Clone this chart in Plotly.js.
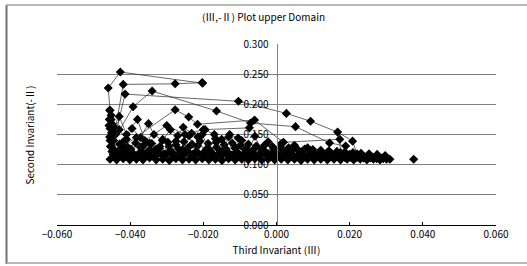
<!DOCTYPE html>
<html>
<head>
<meta charset="utf-8">
<script src="https://cdn.plot.ly/plotly-3.0.1.min.js"></script>
<style>html,body{margin:0;padding:0;background:#fff;}#chart{width:527px;height:266px;}</style>
</head>
<body>
<div id="chart"></div>
<script>
// ---- data ----
const xTicks = [-0.06, -0.04, -0.02, 0.00, 0.02, 0.04, 0.06];
const yTicks = [0.000, 0.050, 0.100, 0.150, 0.200, 0.250, 0.300];

const band1X = [-0.0455,-0.0446,-0.0437,-0.0428,-0.0419,-0.0410,-0.0401,-0.0392,-0.0383,-0.0374,-0.0365,-0.0356,-0.0347,-0.0338,-0.0329,-0.0320,-0.0311,-0.0302,-0.0293,-0.0284,-0.0275,-0.0266,-0.0257,-0.0248,-0.0239,-0.0230,-0.0221,-0.0212,-0.0203,-0.0194,-0.0185,-0.0176,-0.0167,-0.0158,-0.0149,-0.0140,-0.0131,-0.0122,-0.0113,-0.0104,-0.0095,-0.0086,-0.0077,-0.0068,-0.0059,-0.0050,-0.0041,-0.0032,-0.0023,-0.0014,-0.0005,0.0004,0.0013,0.0022,0.0031,0.0040,0.0049,0.0058,0.0067,0.0076,0.0085,0.0094,0.0103,0.0112,0.0121,0.0130,0.0139,0.0148,0.0157,0.0166,0.0175,0.0184,0.0193,0.0202,0.0211,0.0220,0.0229,0.0238,0.0247,0.0256,0.0265,0.0274,0.0283,0.0292,0.0301,0.0310];
const band1Y = [0.109,0.117,0.108,0.118,0.110,0.116,0.108,0.119,0.109,0.117,0.108,0.118,0.111,0.116,0.108,0.119,0.109,0.117,0.107,0.118,
 0.110,0.116,0.108,0.120,0.109,0.117,0.108,0.118,0.110,0.115,0.108,0.119,0.109,0.117,0.107,0.118,0.110,0.116,0.108,0.119,
 0.109,0.117,0.108,0.118,0.110,0.116,0.108,0.118,0.109,0.117,0.108,0.117,0.109,0.116,0.108,0.117,0.109,0.116,0.107,0.116,
 0.109,0.115,0.108,0.115,0.109,0.114,0.108,0.114,0.109,0.113,0.108,0.113,0.109,0.112,0.108,0.112,0.109,0.111,0.108,0.111,
 0.109,0.110,0.108,0.110,0.109,0.109];

const band2X = [-0.0450,-0.0437,-0.0424,-0.0411,-0.0398,-0.0385,-0.0372,-0.0359,-0.0346,-0.0333,-0.0320,-0.0307,-0.0294,-0.0281,-0.0268,-0.0255,-0.0242,-0.0229,-0.0216,-0.0203,-0.0190,-0.0177,-0.0164,-0.0151,-0.0138,-0.0125,-0.0112,-0.0099,-0.0086,-0.0073,-0.0060,-0.0047,-0.0034,-0.0021,-0.0008,0.0005,0.0018,0.0031,0.0044,0.0057,0.0070,0.0083,0.0096,0.0109,0.0122,0.0135,0.0148,0.0161,0.0174,0.0187,0.0200,0.0213,0.0226];
const band2Y = [0.122,0.113,0.128,0.114,0.126,0.113,0.129,0.115,0.125,0.113,0.127,0.114,0.130,0.113,0.126,0.115,0.128,0.113,0.131,0.114,
 0.127,0.113,0.129,0.115,0.126,0.113,0.128,0.114,0.125,0.113,0.127,0.114,0.124,0.113,0.126,0.114,0.123,0.113,0.124,0.114,
 0.122,0.113,0.121,0.113,0.120,0.112,0.120,0.112,0.118,0.112,0.117,0.111,0.115];

const band3X = [-0.0455,-0.0437,-0.0419,-0.0401,-0.0383,-0.0365,-0.0347,-0.0329,-0.0311,-0.0293,-0.0275,-0.0257,-0.0239,-0.0221,-0.0203,-0.0185,-0.0167,-0.0149,-0.0131,-0.0113,-0.0095,-0.0077,-0.0059,-0.0041,-0.0023,-0.0005,0.0013,0.0031,0.0049,0.0067,0.0085,0.0103];
const band3Y = [0.140,0.121,0.138,0.124,0.145,0.120,0.136,0.126,0.142,0.122,0.139,0.125,0.148,0.121,0.150,0.126,0.143,0.122,0.146,0.127,
 0.140,0.123,0.147,0.125,0.138,0.122,0.135,0.121,0.132,0.120,0.128,0.119];

const band4X = [-0.0458,-0.0445,-0.0452,-0.0430,-0.0410,-0.0395,-0.0372,-0.0350,-0.0335,-0.0312,-0.0290,-0.0270,-0.0255,-0.0232,-0.0215,-0.0195,-0.0170,-0.0150,-0.0128,-0.0105];
const band4Y = [0.165,0.148,0.175,0.158,0.142,0.160,0.145,0.168,0.150,0.140,0.158,0.148,0.162,0.152,0.146,0.158,0.150,0.142,0.150,0.144];

const band5X = [-0.0451,-0.0440,-0.0429,-0.0418,-0.0407,-0.0396,-0.0385,-0.0374,-0.0363,-0.0352,-0.0341,-0.0330,-0.0319,-0.0308,-0.0297,-0.0286,-0.0275,-0.0264,-0.0253,-0.0242,-0.0231,-0.0220,-0.0209,-0.0198,-0.0187,-0.0176,-0.0165,-0.0154,-0.0143,-0.0132,-0.0121,-0.0110,-0.0099,-0.0088,-0.0077,-0.0066,-0.0055,-0.0044,-0.0033,-0.0022,-0.0011,0.0000,0.0011,0.0022,0.0033,0.0044,0.0055,0.0066,0.0077,0.0088,0.0099,0.0110,0.0121,0.0132,0.0143,0.0154,0.0165,0.0176,0.0187,0.0198,0.0209,0.0220,0.0231,0.0242,0.0253,0.0264,0.0275,0.0286,0.0297];
const band5Y = [0.131,0.119,0.134,0.121,0.129,0.118,0.136,0.120,0.132,0.119,0.135,0.122,0.130,0.118,0.137,0.121,0.133,0.119,0.138,0.122,
 0.134,0.120,0.139,0.121,0.135,0.119,0.137,0.122,0.133,0.120,0.136,0.121,0.132,0.119,0.134,0.120,0.131,0.119,0.132,0.118,
 0.130,0.118,0.129,0.117,0.128,0.117,0.127,0.116,0.126,0.116,0.125,0.115,0.124,0.115,0.123,0.114,0.122,0.114,0.121,0.113,
 0.120,0.113,0.119,0.112,0.118,0.112,0.117,0.111,0.115];

const colX = [-0.0456,-0.0452,-0.0457,-0.0450,-0.0455,-0.0451,-0.0456,-0.0449,-0.0454];
const colY = [0.190,0.182,0.175,0.168,0.160,0.153,0.146,0.138,0.130];

const t1X = [-0.0455,-0.0460,-0.0427,-0.0202];
const t1Y = [0.190,0.227,0.2535,0.235];
const t2X = [-0.0440,-0.0419,-0.0277,-0.0203];
const t2Y = [0.160,0.233,0.234,0.236];
const t3X = [-0.0440,-0.0414,-0.0104,0.0027,0.0093,0.0167,0.0208,0.0220];
const t3Y = [0.150,0.217,0.205,0.185,0.172,0.154,0.139,0.118];
const t4X = [-0.0445,-0.0392,-0.0340,-0.0164,-0.0071,0.0052,0.0145,0.0189,0.0190];
const t4Y = [0.140,0.196,0.222,0.189,0.169,0.163,0.136,0.131,0.115];
const t5X = [-0.0420,-0.0277,-0.0240,-0.0216,-0.0060,0.0019,0.0173,0.0175];
const t5Y = [0.130,0.191,0.179,0.167,0.174,0.137,0.142,0.120];
const t6X = [-0.0445,-0.0430,-0.0410,-0.0380,-0.0360,-0.0300,-0.0250,-0.0200,-0.0074];
const t6Y = [0.125,0.180,0.150,0.175,0.140,0.165,0.150,0.158,0.161];
const outX = [0.0375];
const outY = [0.109];

// ---- chart ----
const FONT = '"Noto Sans CJK JP", "Noto Sans", sans-serif';
const series = [[band1X,band1Y],[band2X,band2Y],[band5X,band5Y],[band3X,band3Y],[band4X,band4Y],[colX,colY],
  [t1X,t1Y],[t2X,t2Y],[t3X,t3Y],[t4X,t4Y],[t5X,t5Y],[t6X,t6Y],[outX,outY]];
const traces = series.map(([xs, ys]) => ({
  x: xs, y: ys, type: 'scatter', mode: 'lines+markers',
  line: {color: '#262626', width: 0.7},
  marker: {symbol: 'diamond', size: 7, color: '#000'},
  showlegend: false, hoverinfo: 'skip', cliponaxis: false
}));

const layout = {
  width: 527, height: 266,
  margin: {l: 57, r: 31, t: 44, b: 41, pad: 0},
  paper_bgcolor: '#fff', plot_bgcolor: '#fff',
  font: {family: FONT, size: 10, color: '#000'},
  title: {text: '(Ⅲ,-Ⅱ) Plot upper Domain', x: 0.5, xanchor: 'center', y: 0.935, yanchor: 'middle',
          font: {family: FONT, size: 10, color: '#000'}},
  xaxis: {
    range: [-0.06, 0.06], tickvals: xTicks, tickformat: '.3f',
    showgrid: false, zeroline: false, showline: true, linecolor: '#000', linewidth: 1,
    ticks: 'inside', ticklen: 3, tickcolor: '#000',
    tickfont: {family: FONT, size: 10, color: '#000'},
    title: {text: 'Third Invariant (Ⅲ)', standoff: 6, font: {family: FONT, size: 10, color: '#000'}},
    automargin: false, fixedrange: true
  },
  yaxis: {
    range: [0, 0.3], tickvals: yTicks, tickformat: '.3f',
    anchor: 'free', position: 0.5,
    showgrid: true, gridcolor: '#808080', gridwidth: 1,
    zeroline: false, showline: true, linecolor: '#808080', linewidth: 1,
    ticks: '', ticklabelstandoff: 6,
    tickfont: {family: FONT, size: 10, color: '#000'},
    automargin: false, fixedrange: true
  },
  annotations: [{
    text: 'Second Invariant(-Ⅱ)', textangle: -90,
    xref: 'paper', yref: 'paper', x: (29 - 57) / 439, y: 0.5,
    xanchor: 'center', yanchor: 'middle', showarrow: false,
    font: {family: FONT, size: 10, color: '#000'}
  }],
  shapes: [
    {type: 'line', xref: 'paper', yref: 'paper', x0: (6.5 - 57) / 439, x1: (6.5 - 57) / 439, y0: (225 - 264) / 181, y1: (225 - 5) / 181,
     line: {color: '#707070', width: 2}},
    {type: 'line', xref: 'paper', yref: 'paper', x0: (6 - 57) / 439, x1: (540 - 57) / 439, y0: (225 - 5) / 181, y1: (225 - 5) / 181,
     line: {color: '#a0a0a0', width: 1.5}},
    {type: 'line', xref: 'paper', yref: 'paper', x0: (6 - 57) / 439, x1: (540 - 57) / 439, y0: (225 - 263) / 181, y1: (225 - 263) / 181,
     line: {color: '#a0a0a0', width: 1.5}}
  ]
};

Plotly.newPlot('chart', traces, layout, {staticPlot: true, displayModeBar: false});
</script>
</body>
</html>
